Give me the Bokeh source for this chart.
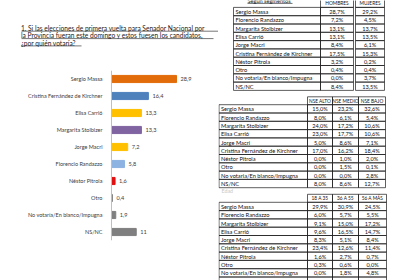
from bokeh.plotting import figure
from bokeh.models import Range1d, FactorRange, ColumnDataSource, Span
from bokeh.layouts import row, column
from bokeh.embed import file_html
from bokeh.resources import INLINE
from bokeh.core.properties import value

# ---------------- data ----------------
title_lines = [
    "1. Si las elecciones de primera vuelta para Senador Nacional por",
    "la Provincia fueran este domingo y estos fuesen los candidatos,",
    "¿por quién votaría?",
]
candidates = ["Sergio Massa", "Cristina Fernández de Kirchner", "Elisa Carrió",
              "Margarita Stolbizer", "Jorge Macri", "Florencio Randazzo",
              "Néstor Pitrola", "Otro", "No votaría/En blanco/Impugna", "NS/NC"]
votes = [28.9, 16.4, 13.3, 13.3, 7.2, 5.8, 1.6, 0.4, 1.9, 11]
vote_labels = ["28,9", "16,4", "13,3", "13,3", "7,2", "5,8", "1,6", "0,4", "1,9", "11"]
bar_colors = ["#E36C0A", "#4F81BD", "#FFC000", "#8064A2", "#FFC000",
              "#8DB3E2", "#E01010", "#7F7F7F", "#7F7F7F", "#7F7F7F"]

table_rows = ["Sergio Massa", "Florencio Randazzo", "Margarita Stolbizer", "Elisa Carrió",
              "Jorge Macri", "Cristina Fernández de Kirchner", "Néstor Pitrola", "Otro",
              "No votaria/En blanco/Impugna", "NS/NC"]

sex_title = "Según segmentos"
sex_headers = ["HOMBRES", "MUJERES"]
hombres = ["28,7%", "7,2%", "13,1%", "13,1%", "8,4%", "17,5%", "3,2%", "0,4%", "0,0%", "8,4%"]
mujeres = ["29,2%", "4,5%", "13,7%", "13,5%", "6,1%", "15,3%", "0,2%", "0,4%", "3,7%", "13,5%"]

nse_headers = ["NSE ALTO", "NSE MEDIO", "NSE BAJO"]
nse_alto = ["15,0%", "8,0%", "24,0%", "23,0%", "5,0%", "17,0%", "0,0%", "0,0%", "0,0%", "8,0%"]
nse_medio = ["23,2%", "6,1%", "17,2%", "17,7%", "8,6%", "16,2%", "1,0%", "1,5%", "0,0%", "8,6%"]
nse_bajo = ["32,6%", "5,4%", "10,6%", "10,6%", "7,1%", "18,4%", "2,0%", "0,1%", "2,8%", "12,7%"]

age_title = "Edad"
age_headers = ["18 A 35", "36 A 55", "56 A MÁS"]
age_18_35 = ["29,9%", "6,0%", "9,1%", "9,6%", "8,3%", "23,4%", "1,6%", "0,3%", "0,0%", "11,8%"]
age_36_55 = ["30,9%", "5,7%", "15,0%", "16,5%", "5,1%", "12,6%", "2,7%", "0,6%", "1,8%", "9,1%"]
age_56 = ["24,5%", "5,5%", "17,2%", "14,7%", "8,4%", "11,4%", "0,7%", "0,0%", "4,8%", "12,8%"]

FONT = "Lato"
TXT = "#404040"


def blank(width, height, xr, yr, **kw):
    opts = dict(min_border=0)
    opts.update(kw)
    f = figure(width=width, height=height, output_backend="svg", toolbar_location=None,
               x_range=xr, y_range=yr, x_axis_location=None, y_axis_location=None, **opts)
    f.outline_line_color = None
    f.grid.visible = False
    return f


# ---------------- title ----------------
tf = blank(218, 70, Range1d(0, 218), Range1d(70, 0))
title_y = [27.3, 34.7, 42.0]
tf.text(x=[20.5] * 3, y=title_y, text=title_lines, text_baseline="middle",
        text_font=value(FONT), text_font_size="6.6px", text_color="#1a1a1a")
tf.segment(x0=[21] * 3, x1=[218, 213, 81], y0=[y + 3.4 for y in title_y],
           y1=[y + 3.4 for y in title_y], line_color="#1a1a1a", line_width=0.6)

# ---------------- bar chart ----------------
# value axis: 0 sits 111 px from the left edge; labels live in the negative part
p = blank(218, 210, Range1d(-49.33, 47.56),
          FactorRange(factors=list(reversed(candidates))),
          min_border_bottom=40)
p.add_layout(Span(location=0, dimension="height", line_color="#BFBFBF", line_width=1))

src = ColumnDataSource(dict(cand=candidates, votes=votes, lab=vote_labels, color=bar_colors))
p.hbar(y="cand", left=0, right="votes", height=0.42, color="color", source=src)
p.text(x=0, y="cand", text="cand", x_offset=-9, text_align="right", text_baseline="middle",
       text_font=value(FONT), text_font_size="5.5px", text_color=TXT, source=src)
p.text(x="votes", y="cand", text="lab", x_offset=4, text_baseline="middle",
       text_font=value(FONT), text_font_size="5.6px", text_color=TXT, source=src)

# ---------------- tables ----------------
q = blank(197, 280, Range1d(218, 415), Range1d(280, 0))

ROW_H = 8.3
LINE = dict(fill_color=None, line_color="#1a1a1a", line_width=0.7)


def draw_table(left, label_right, cols, header_top, row0_top, headers, columns):
    n = len(table_rows)
    tops = [row0_top + i * ROW_H for i in range(n)]
    q.quad(left=[left] * n, right=[label_right] * n, top=tops,
           bottom=[t + ROW_H for t in tops], **LINE)
    q.text(x=[left + 2] * n, y=[t + ROW_H / 2 for t in tops], text=table_rows,
           text_baseline="middle", text_font=value(FONT), text_font_size="5.7px",
           text_color="#111111")
    for (cl, cr), head, vals in zip(cols, headers, columns):
        q.quad(left=[cl], right=[cr], top=[header_top], bottom=[row0_top], **LINE)
        q.text(x=[(cl + cr) / 2], y=[(header_top + row0_top) / 2], text=[head],
               text_align="center", text_baseline="middle", text_font=value(FONT),
               text_font_size="4.8px", text_color="#111111")
        q.quad(left=[cl] * n, right=[cr] * n, top=tops,
               bottom=[t + ROW_H for t in tops], **LINE)
        q.text(x=[(cl + cr) / 2] * n, y=[t + ROW_H / 2 for t in tops], text=vals,
               text_align="center", text_baseline="middle", text_font=value(FONT),
               text_font_size="5.6px", text_color="#111111")


draw_table(233, 320, [(320, 353), (355, 384)], -1.5, 6.9, sex_headers, [hombres, mujeres])
draw_table(218.5, 307, [(307, 332), (332, 358), (358, 385)], 96.3, 104.2,
           nse_headers, [nse_alto, nse_medio, nse_bajo])
draw_table(218.5, 307, [(307, 332), (332, 358), (358, 386)], 193.8, 201.8,
           age_headers, [age_18_35, age_36_55, age_56])

q.text(x=[247], y=[0.3], text=[sex_title], text_baseline="middle", text_font=value(FONT),
       text_font_size="5.6px", text_color="#111111")
q.segment(x0=[247], x1=[292], y0=[2.9], y1=[2.9], line_color="#111111", line_width=0.6)
q.text(x=[221], y=[190], text=[age_title], text_baseline="middle", text_font=value(FONT),
       text_font_size="5.3px", text_color="#C8C8C8")

layout = row(column(tf, p, spacing=0), q, spacing=0)
open("out.html", "w").write(file_html(layout, INLINE))
